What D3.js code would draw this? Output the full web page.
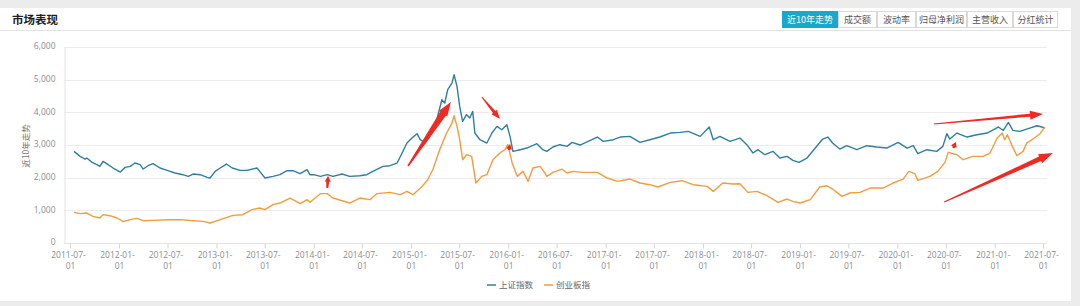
<!DOCTYPE html>
<html>
<head>
<meta charset="utf-8">
<script src="https://cdn.jsdelivr.net/npm/d3@7"></script>
<style>
  body { margin: 0; background: #ececec; font-family: "Noto Sans CJK SC", "Noto Sans", sans-serif; }
  svg { display: block; }
</style>
</head>
<body>
<div id="chart"></div>
<script>
'use strict';

// 上证指数
const shDates = [
  "2011-07-16","2011-08-08","2011-08-27","2011-09-02","2011-09-22","2011-10-10","2011-10-21","2011-11-02",
  "2011-11-21","2011-12-10","2012-01-06","2012-01-24","2012-02-12","2012-03-01","2012-03-20","2012-04-01",
  "2012-04-19","2012-05-08","2012-06-03","2012-06-30","2012-07-29","2012-08-28","2012-09-17","2012-10-05",
  "2012-11-01","2012-11-27","2012-12-08","2012-12-27","2013-01-15","2013-02-07","2013-03-01","2013-03-31",
  "2013-04-25","2013-06-02","2013-06-12","2013-07-02","2013-08-01","2013-08-27","2013-09-23","2013-10-15",
  "2013-11-11","2013-12-07","2013-12-18","2014-01-01","2014-01-26","2014-02-21","2014-03-14","2014-04-17",
  "2014-05-16","2014-06-23","2014-07-19","2014-08-11","2014-09-18","2014-10-14","2014-11-10","2014-11-29",
  "2014-12-17","2015-01-05","2015-01-24","2015-02-05","2015-02-24","2015-03-12","2015-04-08","2015-04-27",
  "2015-05-08","2015-05-19","2015-06-04","2015-06-12","2015-06-23","2015-07-03","2015-07-14","2015-07-29",
  "2015-08-10","2015-08-21","2015-08-29","2015-09-17","2015-10-13","2015-11-01","2015-11-20","2015-12-08",
  "2015-12-27","2016-01-08","2016-01-19","2016-02-15","2016-03-11","2016-04-18","2016-05-10","2016-05-25",
  "2016-06-17","2016-07-13","2016-08-09","2016-08-28","2016-09-27","2016-10-27","2016-12-01","2016-12-23",
  "2017-01-30","2017-02-25","2017-04-02","2017-05-10","2017-06-16","2017-07-23","2017-09-01","2017-10-08",
  "2017-11-07","2017-12-22","2018-01-25","2018-02-09","2018-03-06","2018-04-13","2018-05-20","2018-06-15",
  "2018-07-08","2018-07-27","2018-08-22","2018-09-21","2018-10-17","2018-11-13","2018-12-05","2018-12-28",
  "2019-01-27","2019-02-27","2019-03-27","2019-04-15","2019-05-03","2019-05-30","2019-06-25","2019-08-02",
  "2019-09-09","2019-10-16","2019-11-23","2020-01-04","2020-02-07","2020-03-01","2020-03-18","2020-04-21",
  "2020-05-28","2020-06-20","2020-07-05","2020-07-16","2020-08-12","2020-09-19","2020-10-26","2020-12-03",
  "2021-01-14","2021-02-02","2021-02-21","2021-03-10","2021-04-05","2021-05-12","2021-06-08","2021-06-27",
  "2021-07-08"
];
const shValues = [
  2805,2652,2570,2600,2468,2397,2346,2500,
  2397,2295,2173,2315,2346,2448,2397,2264,
  2366,2428,2295,2224,2142,2091,2040,2111,
  2091,2009,1989,2193,2295,2417,2295,2224,
  2224,2295,2193,1989,2040,2091,2213,2213,
  2122,2244,2091,2091,2040,2091,2040,2111,
  2040,2060,2091,2193,2346,2366,2448,2754,
  3060,3213,3346,3162,3060,3264,3774,4386,
  4284,4692,4896,5151,4794,4182,3723,3927,
  3825,4029,3366,3162,3060,3366,3570,3468,
  3621,3264,2805,2856,2907,3040,2856,2805,
  2938,3009,2958,3080,2999,3111,3244,3111,
  3162,3244,3264,3080,3162,3244,3366,3386,
  3417,3264,3550,3162,3264,3111,3213,3009,
  2754,2856,2703,2805,2601,2652,2530,2468,
  2601,2907,3182,3244,3060,2876,2978,2856,
  2978,2938,2907,3080,2907,2978,2734,2856,
  2805,2958,3346,3182,3366,3244,3315,3366,
  3550,3448,3692,3448,3417,3519,3590,3550,
  3519
];

// 创业板指
const cyDates = [
  "2011-07-16","2011-08-08","2011-09-02","2011-09-25","2011-10-21","2011-11-02","2011-11-28","2011-12-24",
  "2012-01-17","2012-02-12","2012-03-08","2012-04-01","2012-05-08","2012-06-30","2012-08-17","2012-10-05",
  "2012-11-12","2012-12-08","2013-01-15","2013-03-04","2013-04-10","2013-05-14","2013-06-12","2013-07-02",
  "2013-08-01","2013-08-27","2013-10-04","2013-10-15","2013-11-11","2013-12-07","2013-12-18","2014-01-26",
  "2014-02-21","2014-03-14","2014-05-16","2014-06-23","2014-07-31","2014-08-26","2014-10-14","2014-11-22",
  "2014-12-17","2015-01-09","2015-02-12","2015-03-05","2015-03-24","2015-04-19","2015-05-15","2015-06-04",
  "2015-06-12","2015-06-23","2015-07-03","2015-07-14","2015-07-29","2015-08-17","2015-09-02","2015-09-24",
  "2015-10-13","2015-11-05","2015-12-01","2015-12-20","2015-12-31","2016-01-16","2016-02-04","2016-02-26",
  "2016-03-16","2016-04-03","2016-04-30","2016-05-18","2016-05-25","2016-06-17","2016-07-21","2016-08-09",
  "2016-09-01","2016-10-08","2016-12-01","2017-01-07","2017-02-14","2017-04-02","2017-05-10","2017-06-16",
  "2017-07-16","2017-09-01","2017-10-15","2017-11-25","2018-01-17","2018-02-09","2018-03-17","2018-04-24",
  "2018-05-20","2018-06-19","2018-07-23","2018-08-30","2018-10-10","2018-11-13","2018-12-05","2019-01-01",
  "2019-02-08","2019-03-16","2019-04-11","2019-05-03","2019-06-07","2019-07-07","2019-08-14","2019-09-21",
  "2019-11-08","2019-12-16","2020-01-23","2020-02-13","2020-03-07","2020-03-18","2020-05-02","2020-06-01",
  "2020-06-28","2020-07-10","2020-08-12","2020-09-04","2020-10-11","2020-11-18","2020-12-14","2021-01-10",
  "2021-01-29","2021-02-07","2021-02-17","2021-03-08","2021-03-25","2021-04-17","2021-05-01","2021-05-24",
  "2021-06-20","2021-07-08"
];
const cyValues = [
  938,898,918,816,765,867,836,765,
  653,714,755,683,694,714,714,683,
  663,612,714,847,867,1020,1071,1020,
  1173,1224,1377,1326,1204,1326,1250,1510,
  1510,1377,1224,1377,1326,1510,1550,1479,
  1581,1479,1734,1938,2244,2856,3366,3672,
  3896,3570,3162,2550,2703,2652,1836,2040,
  2091,2550,2754,2856,3009,2448,2040,2193,
  1887,2295,2346,2142,2040,2162,2264,2142,
  2193,2162,2162,1989,1887,1958,1836,1785,
  1714,1856,1907,1785,1734,1581,1836,1805,
  1815,1550,1581,1448,1244,1346,1275,1224,
  1326,1714,1754,1652,1428,1530,1550,1683,
  1683,1836,1958,2193,2122,1917,2040,2193,
  2468,2774,2703,2550,2652,2652,2754,3213,
  3366,3162,3315,2958,2672,2805,3060,3182,
  3346,3550
];

const seriesNames = ["上证指数", "创业板指"];
const seriesColors = ["#2f7f9f", "#f19c3f"];
const yTicks = [0, 1000, 2000, 3000, 4000, 5000, 6000];
const tabLabels = ["近10年走势", "成交额", "波动率", "归母净利润", "主营收入", "分红统计"];

// red hand-drawn arrows: [fromDate, fromValue, toDate, toValue, tailW, bodyW, headLen, headW]
const arrowNotes = [
  ["2014-02-21", 1683, "2014-02-24", 2060, 2, 3, 6, 6],
  ["2014-12-21", 2357, "2015-05-31", 4316, 1.5, 7, 14, 10],
  ["2015-09-24", 4469, "2015-12-01", 3796, 1, 3, 9, 7],
  ["2016-01-04", 2847, "2016-01-08", 3030, 2, 3, 5, 6],
  ["2020-07-29", 2908, "2020-08-08", 3092, 2, 3, 5, 6],
  ["2020-05-17", 3643, "2021-07-01", 3949, 1, 3, 13, 9],
  ["2020-06-25", 1255, "2021-08-07", 2755, 1, 5, 14, 10]
];

const W = 1080, H = 306;
const parse = d3.timeParse("%Y-%m-%d");
const grey = "#8c8c8c";

const svg = d3.select("#chart").append("svg")
  .attr("width", W).attr("height", H);

// panel
svg.append("rect").attr("x", 0).attr("y", 0).attr("width", W).attr("height", H).attr("fill", "#ececec");
svg.append("rect").attr("x", 0).attr("y", 8).attr("width", 1071).attr("height", 293).attr("fill", "#fff");
svg.append("line").attr("x1", 0).attr("x2", 1071).attr("y1", 30.5).attr("y2", 30.5)
  .attr("stroke", "#e3e3e3");

svg.append("text")
  .attr("x", 12).attr("y", 24)
  .style("font-size", "11.5px").style("font-weight", "bold").attr("fill", "#222")
  .text("市场表现");

// tabs
const tabWidths = [56, 39, 39, 51, 46, 45];
let tx = 782;
tabLabels.forEach((t, i) => {
  const g = svg.append("g").attr("transform", `translate(${tx},11)`);
  g.append("rect").attr("x", 0.5).attr("y", 0.5).attr("width", tabWidths[i] - 1).attr("height", 16)
    .attr("fill", i === 0 ? "#19a7cb" : "#fff")
    .attr("stroke", i === 0 ? "#19a7cb" : "#d9d9d9");
  g.append("text").attr("x", tabWidths[i] / 2).attr("y", 12)
    .attr("text-anchor", "middle")
    .style("font-size", "9px")
    .attr("fill", i === 0 ? "#fff" : "#555")
    .text(t);
  tx += tabWidths[i];
});

// scales
const x = d3.scaleTime()
  .domain([parse("2011-07-01"), parse("2021-07-01")])
  .range([70, 1043]);
const y = d3.scaleLinear().domain([0, 6000]).range([243, 47]);
const plotLeft = 64, plotRight = 1047;

// grid
svg.append("g").selectAll("line")
  .data(yTicks.slice(1))
  .enter().append("line")
  .attr("x1", plotLeft).attr("x2", plotRight)
  .attr("y1", d => Math.round(y(d)) + 0.5).attr("y2", d => Math.round(y(d)) + 0.5)
  .attr("stroke", "#ececec");

// y axis
const yAxis = d3.axisLeft(y).tickValues(yTicks).tickSize(0).tickPadding(9)
  .tickFormat(d3.format(","));
const yg = svg.append("g").attr("transform", `translate(${plotLeft + 0.5},0)`).call(yAxis);
yg.select(".domain").attr("stroke", "#e2e2e2");
yg.selectAll("text").attr("fill", grey).style("font-size", "8.5px")
  .attr("dy", "0.2em")
  .style("font-family", "'Open Sans', 'Noto Sans', sans-serif");

svg.append("text")
  .attr("transform", "translate(29,146) rotate(-90)")
  .attr("text-anchor", "middle")
  .style("font-size", "8.5px").attr("fill", "#777")
  .text("近10年走势");

// x axis
const xTicks = d3.timeMonth.every(6).range(parse("2011-07-01"), parse("2021-07-02"));
const xAxis = d3.axisBottom(x).tickValues(xTicks).tickSize(5).tickFormat("");
const xg = svg.append("g").attr("transform", "translate(0,243.5)").call(xAxis);
xg.select(".domain").attr("d", `M${plotLeft},0H${plotRight}`).attr("stroke", "#e2e2e2");
xg.selectAll(".tick line").attr("stroke", "#d6d6d6");
const fmt = d3.timeFormat("%Y-%m-");
xg.selectAll(".tick").each(function(d) {
  const t = d3.select(this).append("text")
    .attr("text-anchor", "middle").attr("fill", grey)
    .style("font-size", "8.5px")
    .style("font-family", "'Open Sans', 'Noto Sans', sans-serif");
  t.append("tspan").attr("x", -2).attr("y", 14).text(fmt(d));
  t.append("tspan").attr("x", 0).attr("y", 25).text("01");
});

// lines
const line = d3.line().x(d => x(d[0])).y(d => y(d[1]));
const shData = shDates.map((d, i) => [parse(d), shValues[i]]);
const cyData = cyDates.map((d, i) => [parse(d), cyValues[i]]);
[shData, cyData].forEach((data, i) => {
  svg.append("path")
    .datum(data)
    .attr("fill", "none")
    .attr("stroke", seriesColors[i])
    .attr("stroke-width", 1.4)
    .attr("stroke-linejoin", "round")
    .attr("d", line);
});

// red arrows
function arrowPath(a) {
  const x0 = x(parse(a[0])), y0 = y(a[1]), x1 = x(parse(a[2])), y1 = y(a[3]);
  const len = Math.hypot(x1 - x0, y1 - y0);
  const ux = (x1 - x0) / len, uy = (y1 - y0) / len;
  const nx = -uy, ny = ux;
  const bx = x1 - ux * a[6], by = y1 - uy * a[6];
  const p = [
    [x0 + nx * a[4] / 2, y0 + ny * a[4] / 2],
    [bx + nx * a[5] / 2, by + ny * a[5] / 2],
    [bx + nx * a[7] / 2, by + ny * a[7] / 2],
    [x1, y1],
    [bx - nx * a[7] / 2, by - ny * a[7] / 2],
    [bx - nx * a[5] / 2, by - ny * a[5] / 2],
    [x0 - nx * a[4] / 2, y0 - ny * a[4] / 2]
  ];
  return "M" + p.map(q => q.join(",")).join("L") + "Z";
}
svg.append("g").selectAll("path")
  .data(arrowNotes)
  .enter().append("path")
  .attr("d", arrowPath)
  .attr("fill", "#ee2a22");

// legend
const legendX = [487, 544];
seriesNames.forEach((n, i) => {
  svg.append("line")
    .attr("x1", legendX[i]).attr("x2", legendX[i] + 9)
    .attr("y1", 285).attr("y2", 285)
    .attr("stroke", seriesColors[i]).attr("stroke-width", 1.5);
  svg.append("text")
    .attr("x", legendX[i] + 12).attr("y", 288)
    .style("font-size", "8.5px").attr("fill", "#666")
    .text(n);
});
</script>
</body>
</html>
